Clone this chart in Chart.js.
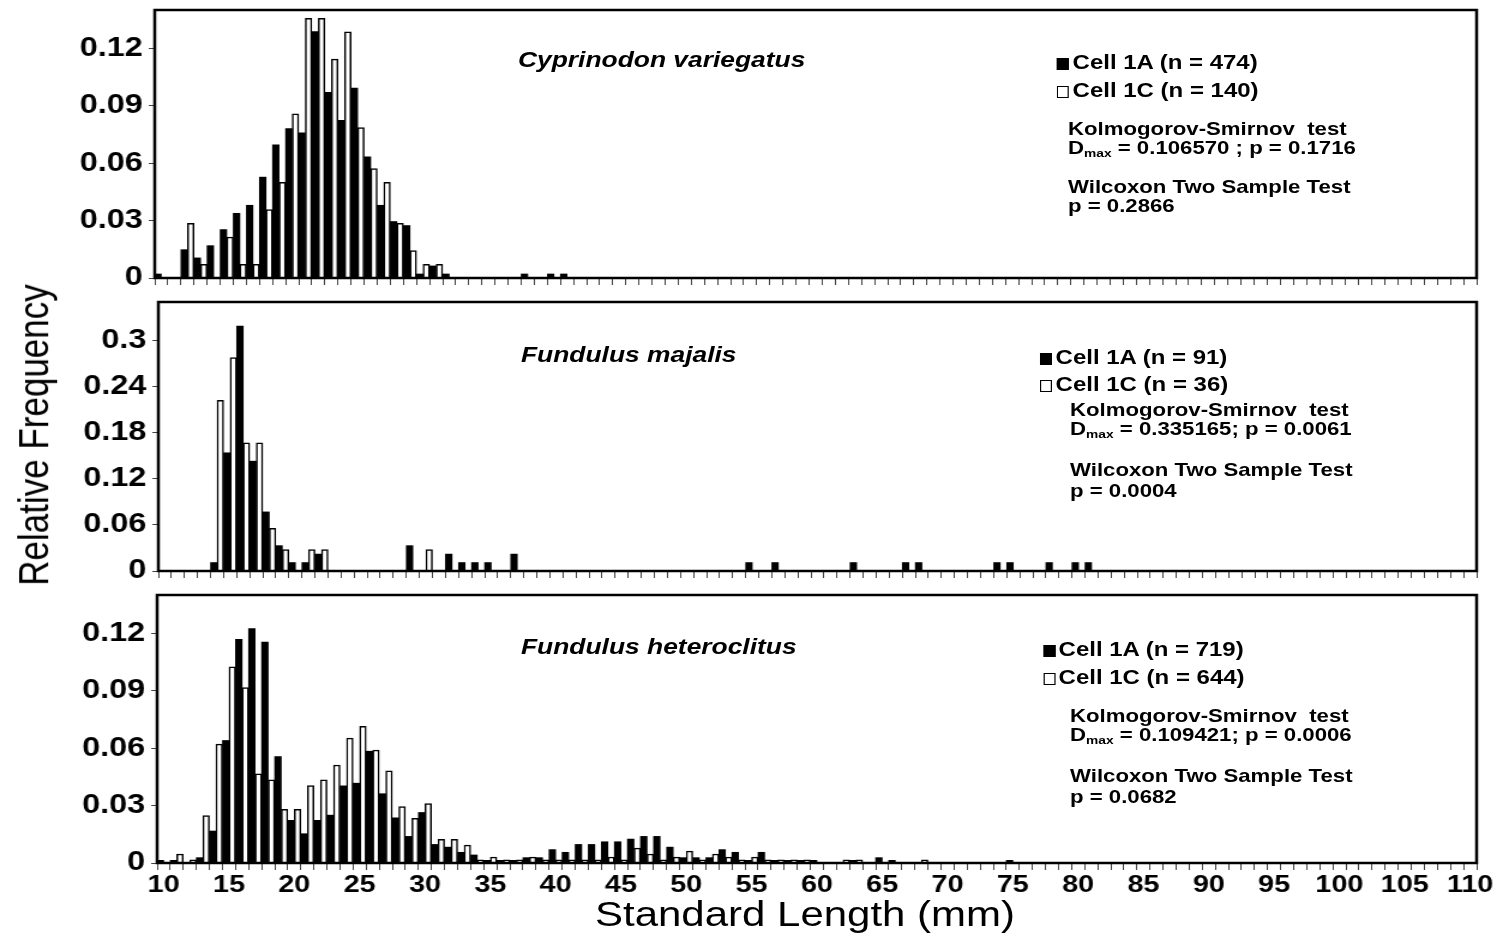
<!DOCTYPE html>
<html>
<head>
<meta charset="utf-8">
<script src="https://cdn.jsdelivr.net/npm/chart.js@4.4.1/dist/chart.umd.min.js"></script>
<style>
  html, body { margin: 0; padding: 0; background: #fff; overflow: hidden; }
  #stage {
    position: absolute; left: 0; top: 0; width: 1253px; height: 938px;
    transform: scaleX(1.19952); transform-origin: 0 0;
    font-family: 'Liberation Sans', Arial, sans-serif; color: #000;
  }
  #stage canvas { position: absolute; left: 0; }
  .note { position: absolute; white-space: pre; line-height: 1; transform: translateY(-50%); font-weight: bold; }
  .note sub { font-size: 0.62em; vertical-align: -0.3em; line-height: 0; }
  .species { font-style: italic; font-size: 22px; }
  .legend { font-size: 20px; }
  .stats { font-size: 18.5px; }
  .key { display: inline-block; width: 10px; height: 12px; box-sizing: border-box; border: 1.5px solid #000; margin-right: 3px; vertical-align: -1px; }
  .axis-title { position: absolute; font-size: 35px; white-space: pre; line-height: 1; }
</style>
</head>
<body>
<div id="stage">
  <canvas id="cyp" width="1253" height="290" style="top:0px;width:1253px;height:290px"></canvas>
  <canvas id="maj" width="1253" height="293" style="top:290px;width:1253px;height:293px"></canvas>
  <canvas id="het" width="1253" height="355" style="top:583px;width:1253px;height:355px"></canvas>
</div>
<script>
// standard length classes (mm)
const lengths = [
  '10','11','12','13','14','15','16','17','18','19','20','21','22','23','24','25','26','27','28','29',
  '30','31','32','33','34','35','36','37','38','39','40','41','42','43','44','45','46','47','48','49',
  '50','51','52','53','54','55','56','57','58','59','60','61','62','63','64','65','66','67','68','69',
  '70','71','72','73','74','75','76','77','78','79','80','81','82','83','84','85','86','87','88','89',
  '90','91','92','93','94','95','96','97','98','99','100','101','102','103','104','105','106','107','108','109','110'
];

// Cyprinodon variegatus, values from 10 mm upward
const cyp1A = [0.0021, 0, 0.0148, 0.0105, 0.0169, 0.0253, 0.0338, 0.0380, 0.0527, 0.0696,
               0.0781, 0.0759, 0.1287, 0.0970, 0.0823, 0.0992, 0.0633, 0.0380, 0.0295, 0.0274,
               0.0021, 0.0063, 0.0021, 0, 0, 0, 0, 0, 0.0021, 0,
               0.0021, 0.0021];
const cyp1C = [0, 0, 0.0286, 0.0071, 0, 0.0214, 0.0071, 0.0071, 0.0357, 0.0500,
               0.0857, 0.1357, 0.1357, 0.1143, 0.1286, 0.0786, 0.0571, 0.0500, 0.0286, 0.0143,
               0.0071, 0.0071];

// Fundulus majalis
const maj1A = [0, 0, 0, 0, 0.0110, 0.1538, 0.3187, 0.1429, 0.0769, 0.0330,
               0.0110, 0.0110, 0.0220, 0, 0, 0, 0, 0, 0, 0.0330,
               0, 0, 0.0220, 0.0110, 0.0110, 0.0110, 0, 0.0220, 0, 0,
               0, 0, 0, 0, 0, 0, 0, 0, 0, 0,
               0, 0, 0, 0, 0, 0.0110, 0, 0.0110, 0, 0,
               0, 0, 0, 0.0110, 0, 0, 0, 0.0110, 0.0110, 0,
               0, 0, 0, 0, 0.0110, 0.0110, 0, 0, 0.0110, 0,
               0.0110, 0.0110];
const maj1C = [0, 0, 0, 0, 0.2222, 0.2778, 0.1667, 0.1667, 0.0556, 0.0278,
               0, 0.0278, 0.0278, 0, 0, 0, 0, 0, 0, 0,
               0.0278];

// Fundulus heteroclitus
const het1A = [0.0014, 0.0014, 0, 0.0028, 0.0167, 0.0640, 0.1168, 0.1224, 0.1154, 0.0556,
               0.0223, 0.0153, 0.0223, 0.0250, 0.0403, 0.0417, 0.0584, 0.0362, 0.0236, 0.0139,
               0.0264, 0.0097, 0.0083, 0.0056, 0.0042, 0.0014, 0.0014, 0.0014, 0.0028, 0.0028,
               0.0070, 0.0056, 0.0097, 0.0097, 0.0111, 0.0111, 0.0125, 0.0139, 0.0139, 0.0083,
               0.0028, 0.0028, 0.0028, 0.0070, 0.0056, 0.0014, 0.0056, 0.0014, 0.0014, 0.0014,
               0.0014, 0, 0, 0.0014, 0, 0.0028, 0.0014, 0, 0, 0,
               0, 0, 0, 0, 0, 0.0014];
const het1C = [0, 0.0047, 0.0016, 0.0248, 0.0621, 0.1025, 0.0916, 0.0466, 0.0435, 0.0280,
               0.0280, 0.0404, 0.0435, 0.0512, 0.0652, 0.0714, 0.0590, 0.0481, 0.0295, 0.0233,
               0.0311, 0.0124, 0.0124, 0.0093, 0.0016, 0.0031, 0.0016, 0.0016, 0.0031, 0.0016,
               0.0016, 0.0016, 0.0016, 0.0016, 0.0031, 0.0016, 0.0078, 0.0047, 0.0016, 0.0031,
               0.0062, 0.0016, 0.0047, 0.0031, 0.0016, 0.0031, 0.0016, 0.0016, 0.0016, 0.0016,
               0, 0, 0.0016, 0.0016, 0, 0, 0, 0, 0.0016];

// y tick values per panel
const yTicks014 = [0, 0.03, 0.06, 0.09, 0.12];
const yTicks035 = [0, 0.06, 0.12, 0.18, 0.24, 0.3];

const SX = 1503 / 1253; // the figure is stretched horizontally
const xTickFont = { family: "'Liberation Sans', Arial, sans-serif", size: 24, weight: 'bold' };
const yTickFont = { family: "'Liberation Sans', Arial, sans-serif", size: 27, weight: 'bold' };

// box round the plot area
const framePlugin = {
  id: 'frame',
  afterDatasetsDraw(chart) {
    const { ctx, chartArea: a } = chart;
    ctx.save();
    ctx.strokeStyle = '#000';
    ctx.lineWidth = 2.5;
    ctx.strokeRect(a.left, a.top, a.right - a.left, a.bottom - a.top);
    ctx.restore();
  }
};

function makePanel(id, setA, setC, labelA, labelC, yMax, yTicks, yWidth, xHeight, padTop, showLabels) {
  return new Chart(document.getElementById(id), {
    type: 'bar',
    data: {
      labels: lengths,
      datasets: [
        { label: labelA, data: setA, backgroundColor: '#000', borderWidth: 0,
          barPercentage: 1, categoryPercentage: 1 },
        { label: labelC, data: setC, backgroundColor: '#fff', borderColor: '#000', borderWidth: 1.5,
          barPercentage: 1, categoryPercentage: 1 }
      ]
    },
    options: {
      responsive: false,
      animation: false,
      layout: { padding: { top: padTop, right: 22, left: 0, bottom: 0 } },
      plugins: { legend: { display: false }, tooltip: { enabled: false } },
      scales: {
        x: {
          type: 'category',
          offset: true,
          border: { display: false },
          grid: { offset: true, drawOnChartArea: false, drawTicks: true, tickLength: 7, color: '#444' },
          ticks: {
            display: showLabels,
            autoSkip: false, maxRotation: 0, minRotation: 0, padding: 1,
            color: '#000', font: xTickFont,
            callback: function (value) {
              const lab = this.getLabelForValue(value);
              return Number(lab) % 5 === 0 ? lab : '';
            }
          },
          afterFit: s => { s.height = xHeight; s.paddingLeft = 0; s.paddingRight = 0; }
        },
        y: {
          min: 0, max: yMax,
          border: { display: false },
          grid: { drawOnChartArea: false, drawTicks: true, tickLength: 5, color: '#444' },
          ticks: { padding: 5, color: '#000', font: yTickFont, callback: v => String(+v.toFixed(2)) },
          afterBuildTicks: s => { s.ticks = yTicks.map(v => ({ value: v })); },
          afterFit: s => { s.width = yWidth; s.paddingTop = 0; s.paddingBottom = 0; }
        }
      }
    },
    plugins: [framePlugin]
  });
}

makePanel('cyp', cyp1A, cyp1C, 'Cell 1A (n = 474)', 'Cell 1C (n = 140)', 0.14, yTicks014, 129, 12, 10, false);
makePanel('maj', maj1A, maj1C, 'Cell 1A (n = 91)', 'Cell 1C (n = 36)', 0.35, yTicks035, 132, 12, 12, false);
makePanel('het', het1A, het1C, 'Cell 1A (n = 719)', 'Cell 1C (n = 644)', 0.14, yTicks014, 131, 75, 12, true);

// text inside the panels (screen x of left edge, screen y of centre)
const notes = [
  { cls: 'species', x: 518, y: 60, html: 'Cyprinodon variegatus' },
  { cls: 'legend', x: 1057, y: 62, key: '#000', html: 'Cell 1A (n = 474)' },
  { cls: 'legend', x: 1057, y: 90, key: '#fff', html: 'Cell 1C (n = 140)' },
  { cls: 'stats', x: 1068, y: 129, html: 'Kolmogorov-Smirnov  test' },
  { cls: 'stats', x: 1068, y: 148, html: 'D<sub>max</sub> = 0.106570 ; p = 0.1716' },
  { cls: 'stats', x: 1068, y: 187, html: 'Wilcoxon Two Sample Test' },
  { cls: 'stats', x: 1068, y: 206, html: 'p = 0.2866' },

  { cls: 'species', x: 521, y: 355, html: 'Fundulus majalis' },
  { cls: 'legend', x: 1040, y: 357, key: '#000', html: 'Cell 1A (n = 91)' },
  { cls: 'legend', x: 1040, y: 384, key: '#fff', html: 'Cell 1C (n = 36)' },
  { cls: 'stats', x: 1070, y: 410, html: 'Kolmogorov-Smirnov  test' },
  { cls: 'stats', x: 1070, y: 429, html: 'D<sub>max</sub> = 0.335165; p = 0.0061' },
  { cls: 'stats', x: 1070, y: 470, html: 'Wilcoxon Two Sample Test' },
  { cls: 'stats', x: 1070, y: 491, html: 'p = 0.0004' },

  { cls: 'species', x: 521, y: 647, html: 'Fundulus heteroclitus' },
  { cls: 'legend', x: 1043, y: 649, key: '#000', html: 'Cell 1A (n = 719)' },
  { cls: 'legend', x: 1043, y: 677, key: '#fff', html: 'Cell 1C (n = 644)' },
  { cls: 'stats', x: 1070, y: 716, html: 'Kolmogorov-Smirnov  test' },
  { cls: 'stats', x: 1070, y: 735, html: 'D<sub>max</sub> = 0.109421; p = 0.0006' },
  { cls: 'stats', x: 1070, y: 776, html: 'Wilcoxon Two Sample Test' },
  { cls: 'stats', x: 1070, y: 797, html: 'p = 0.0682' }
];

const stage = document.getElementById('stage');
notes.forEach(n => {
  const d = document.createElement('div');
  d.className = 'note ' + n.cls;
  d.style.left = (n.x / SX) + 'px';
  d.style.top = n.y + 'px';
  let inner = n.html;
  if (n.key) inner = '<span class="key" style="background:' + n.key + '"></span>' + inner;
  d.innerHTML = inner;
  stage.appendChild(d);
});

// axis titles
const yTitle = document.createElement('div');
yTitle.className = 'axis-title';
yTitle.textContent = 'Relative Frequency';
yTitle.style.left = (33 / SX) + 'px';
yTitle.style.top = '435px';
yTitle.style.transform = 'translate(-50%, -50%) rotate(-90deg)';
stage.appendChild(yTitle);

const xTitle = document.createElement('div');
xTitle.className = 'axis-title';
xTitle.textContent = 'Standard Length (mm)';
xTitle.style.left = (805 / SX) + 'px';
xTitle.style.top = '913px';
xTitle.style.transform = 'translate(-50%, -50%)';
stage.appendChild(xTitle);
</script>
</body>
</html>
